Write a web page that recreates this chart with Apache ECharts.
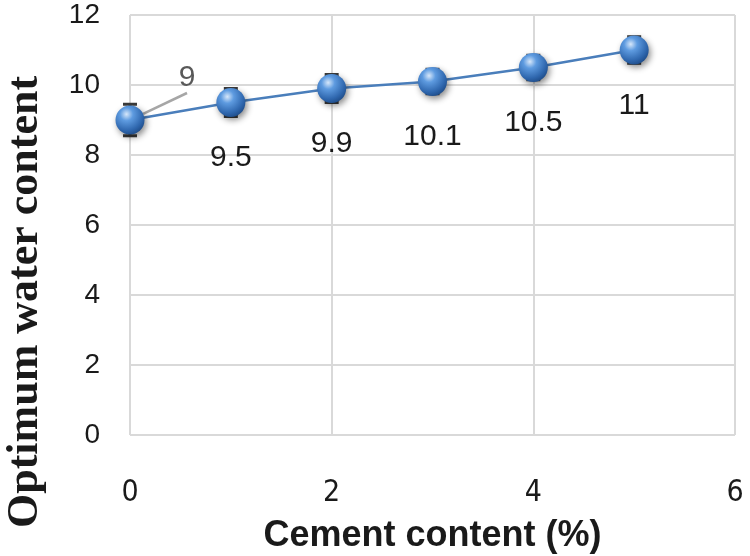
<!DOCTYPE html>
<html>
<head>
<meta charset="utf-8">
<script src="https://cdn.jsdelivr.net/npm/echarts@6/dist/echarts.min.js"></script>
<style>
  html, body { margin: 0; padding: 0; background: #fff; }
  #chart { width: 750px; height: 556px; }
</style>
</head>
<body>
<div id="chart"></div>
<script>
// cement content (%) vs optimum water content
var cement = [0, 1, 2, 3, 4, 5];
var water = [9, 9.5, 9.9, 10.1, 10.5, 11];
var waterErr = [0.45, 0.4, 0.4, 0.35, 0.35, 0.38];
var xTicks = [0, 2, 4, 6];
var yTicks = [0, 2, 4, 6, 8, 10, 12];

var lineData = cement.map(function (c, i) {
  var item = { value: [c, water[i]] };
  if (i === 0) {
    // first label sits up-right with a leader line
    item.label = { position: 'inside', color: '#595959' };
    item.labelLine = { show: true };
  }
  return item;
});
var errData = cement.map(function (c, i) {
  return [c, water[i] - waterErr[i], water[i] + waterErr[i]];
});

var sphere = new echarts.graphic.RadialGradient(0.38, 0.3, 0.75, [
  { offset: 0, color: '#d6e7fa' },
  { offset: 0.3, color: '#5e9be0' },
  { offset: 0.75, color: '#2f67ae' },
  { offset: 1, color: '#1d4a86' }
]);

var chart = echarts.init(document.getElementById('chart'));
chart.setOption({
  animation: false,
  grid: { left: 130, right: 15, top: 15, bottom: 121, outerBoundsMode: 'none', containLabel: false },
  xAxis: {
    type: 'value', min: 0, max: 6, interval: 2,
    name: 'Cement content (%)',
    nameLocation: 'middle',
    nameMoveOverlap: false,
    nameGap: 83,
    nameTextStyle: { fontFamily: 'Liberation Sans', fontWeight: 'bold', fontSize: 36, color: '#1a1a1a' },
    axisLine: { show: false },
    axisTick: { show: false },
    axisLabel: {
      margin: 43, fontSize: 30, color: '#1a1a1a',
      fontFamily: 'Liberation Sans Narrow, DejaVu Sans Condensed, sans-serif',
      formatter: function (v) { return xTicks.indexOf(v) >= 0 ? String(v) : ''; }
    },
    splitLine: { lineStyle: { color: '#d9d9d9', width: 2 } }
  },
  yAxis: {
    type: 'value', min: 0, max: 12, interval: 2,
    name: 'Optimum water content',
    nameLocation: 'middle',
    nameMoveOverlap: false,
    nameGap: 82,
    nameTextStyle: {
      fontFamily: 'Liberation Serif', fontWeight: 'bold', fontSize: 44, color: '#1a1a1a',
      padding: [0, 154, 0, 0]
    },
    axisLine: { show: false },
    axisTick: { show: false },
    axisLabel: {
      margin: 30, fontSize: 28, color: '#1a1a1a', fontFamily: 'Liberation Sans',
      formatter: function (v) { return yTicks.indexOf(v) >= 0 ? String(v) : ''; }
    },
    splitLine: { lineStyle: { color: '#d9d9d9', width: 2 } }
  },
  series: [
    {
      type: 'custom',
      z: 1,
      data: errData,
      renderItem: function (params, api) {
        var x = api.value(0);
        var lo = api.coord([x, api.value(1)]);
        var hi = api.coord([x, api.value(2)]);
        var half = 7;
        var st = { stroke: '#3a3a3a', lineWidth: 3 };
        return {
          type: 'group',
          children: [
            { type: 'line', shape: { x1: lo[0], y1: lo[1], x2: hi[0], y2: hi[1] }, style: st },
            { type: 'line', shape: { x1: lo[0] - half, y1: lo[1], x2: lo[0] + half, y2: lo[1] }, style: st },
            { type: 'line', shape: { x1: hi[0] - half, y1: hi[1], x2: hi[0] + half, y2: hi[1] }, style: st }
          ]
        };
      }
    },
    {
      type: 'line',
      z: 3,
      data: lineData,
      symbol: 'circle',
      symbolSize: 29,
      lineStyle: { color: '#4a7ebb', width: 2.5 },
      itemStyle: {
        color: sphere,
        shadowBlur: 6,
        shadowColor: 'rgba(0,0,0,0.45)',
        shadowOffsetX: 2,
        shadowOffsetY: 3
      },
      label: {
        show: true,
        position: 'bottom',
        distance: 26,
        fontSize: 30,
        fontFamily: 'Liberation Sans',
        color: '#1a1a1a'
      },
      labelLine: {
        show: false,
        lineStyle: { color: '#a6a6a6', width: 2.5 }
      },
      labelLayout: function (params) {
        if (params.dataIndex === 0) {
          return { dx: 57, dy: -42 };
        }
      }
    }
  ]
});
</script>
</body>
</html>
